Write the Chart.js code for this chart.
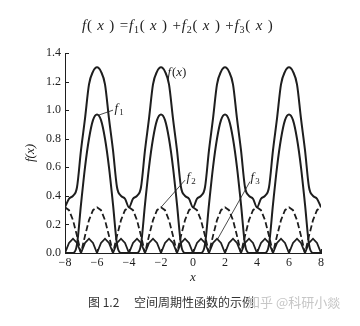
<!DOCTYPE html>
<html>
<head>
<meta charset="utf-8">
<script src="https://cdn.jsdelivr.net/npm/chart.js@4.4.1/dist/chart.umd.min.js"></script>
<style>
  html, body { margin: 0; padding: 0; background: #fff; }
  #wrap { position: relative; width: 360px; height: 326px; overflow: hidden; }
  #chart { position: absolute; left: 0; top: 0; }
  .title { position: absolute; top: 17px; left: 82px; font: 15px 'Liberation Serif', serif; color: #222; white-space: nowrap; letter-spacing: 0.8px; }
  .title sub { font-size: 10px; vertical-align: -3px; line-height: 0; }
  .caption { position: absolute; top: 293px; left: 88px; font: 12px 'Noto Sans CJK SC', sans-serif; color: #333; white-space: nowrap; }
  .mark { position: absolute; top: 292px; left: 247px; font: 13px 'Noto Sans CJK SC', sans-serif; color: #c6c6c6; white-space: nowrap; }
</style>
</head>
<body>
<div id="wrap">
  <canvas id="chart" width="360" height="326"></canvas>
  <div class="title"><i>f</i>( <i>x</i> ) =<i>f</i><sub>1</sub>( <i>x</i> ) +<i>f</i><sub>2</sub>( <i>x</i> ) +<i>f</i><sub>3</sub>( <i>x</i> )</div>
  <div class="caption">图 1.2　 空间周期性函数的示例</div>
  <div class="mark">知乎 @科研小燚</div>
</div>
<script>
// x 取样点（每 0.25 一点）
const xValues = [
  -8, -7.75, -7.5, -7.25, -7, -6.75, -6.5, -6.25, -6, -5.75, -5.5, -5.25, -5, -4.75, -4.5, -4.25,
  -4, -3.75, -3.5, -3.25, -3, -2.75, -2.5, -2.25, -2, -1.75, -1.5, -1.25, -1, -0.75, -0.5, -0.25,
  0, 0.25, 0.5, 0.75, 1, 1.25, 1.5, 1.75, 2, 2.25, 2.5, 2.75, 3, 3.25, 3.5, 3.75,
  4, 4.25, 4.5, 4.75, 5, 5.25, 5.5, 5.75, 6, 6.25, 6.5, 6.75, 7, 7.25, 7.5, 7.75, 8
];

// f(x) 合成曲线
const fValues = [
  0.32, 0.38, 0.40, 0.46, 0.72, 0.94, 1.18, 1.27, 1.30, 1.27, 1.18, 0.94, 0.72, 0.46, 0.40, 0.38,
  0.32, 0.38, 0.40, 0.46, 0.72, 0.94, 1.18, 1.27, 1.30, 1.27, 1.18, 0.94, 0.72, 0.46, 0.40, 0.38,
  0.32, 0.38, 0.40, 0.46, 0.72, 0.94, 1.18, 1.27, 1.30, 1.27, 1.18, 0.94, 0.72, 0.46, 0.40, 0.38,
  0.32, 0.38, 0.40, 0.46, 0.72, 0.94, 1.18, 1.27, 1.30, 1.27, 1.18, 0.94, 0.72, 0.46, 0.40, 0.38,
  0.32
];

// f1
const f1Values = [
  0, 0, 0, 0.06, 0.34, 0.60, 0.80, 0.93, 0.97, 0.93, 0.80, 0.60, 0.34, 0.06, 0, 0,
  0, 0, 0, 0.06, 0.34, 0.60, 0.80, 0.93, 0.97, 0.93, 0.80, 0.60, 0.34, 0.06, 0, 0,
  0, 0, 0, 0.06, 0.34, 0.60, 0.80, 0.93, 0.97, 0.93, 0.80, 0.60, 0.34, 0.06, 0, 0,
  0, 0, 0, 0.06, 0.34, 0.60, 0.80, 0.93, 0.97, 0.93, 0.80, 0.60, 0.34, 0.06, 0, 0,
  0
];

// f2（虚线）
const f2Values = [
  0.32, 0.30, 0.23, 0.12, 0, 0.12, 0.23, 0.30, 0.32, 0.30, 0.23, 0.12, 0, 0.12, 0.23, 0.30,
  0.32, 0.30, 0.23, 0.12, 0, 0.12, 0.23, 0.30, 0.32, 0.30, 0.23, 0.12, 0, 0.12, 0.23, 0.30,
  0.32, 0.30, 0.23, 0.12, 0, 0.12, 0.23, 0.30, 0.32, 0.30, 0.23, 0.12, 0, 0.12, 0.23, 0.30,
  0.32, 0.30, 0.23, 0.12, 0, 0.12, 0.23, 0.30, 0.32, 0.30, 0.23, 0.12, 0, 0.12, 0.23, 0.30,
  0.32
];

// f3（小峰）
const f3Values = [
  0, 0.07, 0.10, 0.07, 0, 0.07, 0.10, 0.07, 0, 0.07, 0.10, 0.07, 0, 0.07, 0.10, 0.07,
  0, 0.07, 0.10, 0.07, 0, 0.07, 0.10, 0.07, 0, 0.07, 0.10, 0.07, 0, 0.07, 0.10, 0.07,
  0, 0.07, 0.10, 0.07, 0, 0.07, 0.10, 0.07, 0, 0.07, 0.10, 0.07, 0, 0.07, 0.10, 0.07,
  0, 0.07, 0.10, 0.07, 0, 0.07, 0.10, 0.07, 0, 0.07, 0.10, 0.07, 0, 0.07, 0.10, 0.07,
  0
];

const xTickValues = [-8, -6, -4, -2, 0, 2, 4, 6, 8];
const yTickValues = [0, 0.2, 0.4, 0.6, 0.8, 1.0, 1.2, 1.4];

// 曲线标注：文字位置 + 引线（数据坐标）
const noteTexts = ['f(x)', 'f1', 'f2', 'f3'];
const noteAt = [[-1.6, 1.26], [-4.9, 1.01], [-0.4, 0.53], [3.6, 0.53]];
const noteLeaders = [null, [-5.9, 0.965, -5.0, 1.0], [-0.5, 0.51, -2.0, 0.32], [3.56, 0.5, 1.5, 0.09]];

const ink = '#1e1e1e';
const serif = "'Liberation Serif', 'DejaVu Serif', serif";

const toPoints = (vals) => xValues.map((x, i) => ({ x: x, y: vals[i] }));

const notesPlugin = {
    id: 'notes',
    afterDatasetsDraw(chart) {
        const { ctx, chartArea, scales } = chart;
        const sx = scales.x, sy = scales.y;
        ctx.save();

        // 刻度朝内
        ctx.strokeStyle = ink;
        ctx.lineWidth = 1;
        yTickValues.forEach(v => {
            const py = Math.round(sy.getPixelForValue(v)) + 0.5;
            ctx.beginPath();
            ctx.moveTo(chartArea.left, py);
            ctx.lineTo(chartArea.left + 4, py);
            ctx.stroke();
        });
        xTickValues.forEach(v => {
            const px = Math.round(sx.getPixelForValue(v)) + 0.5;
            ctx.beginPath();
            ctx.moveTo(px, chartArea.bottom);
            ctx.lineTo(px, chartArea.bottom - 4);
            ctx.stroke();
        });

        // 引线
        ctx.lineWidth = 0.8;
        noteLeaders.forEach(l => {
            if (!l) return;
            ctx.beginPath();
            ctx.moveTo(sx.getPixelForValue(l[0]), sy.getPixelForValue(l[1]));
            ctx.lineTo(sx.getPixelForValue(l[2]), sy.getPixelForValue(l[3]));
            ctx.stroke();
        });

        // 文字
        ctx.fillStyle = ink;
        ctx.textBaseline = 'middle';
        ctx.textAlign = 'left';
        noteTexts.forEach((t, i) => {
            let px = sx.getPixelForValue(noteAt[i][0]);
            const py = sy.getPixelForValue(noteAt[i][1]);
            ctx.font = 'italic 13px ' + serif;
            ctx.fillText('f', px, py);
            px += ctx.measureText('f').width + 1;
            if (t === 'f(x)') {
                ctx.font = '13px ' + serif;
                ctx.fillText('(', px, py); px += ctx.measureText('(').width;
                ctx.font = 'italic 13px ' + serif;
                ctx.fillText('x', px, py); px += ctx.measureText('x').width;
                ctx.font = '13px ' + serif;
                ctx.fillText(')', px, py);
            } else {
                ctx.font = '9px ' + serif;
                ctx.fillText(t.slice(1), px, py + 4);
            }
        });
        ctx.restore();
    }
};

new Chart(document.getElementById('chart'), {
    type: 'line',
    data: {
        datasets: [
            { label: 'f1', data: toPoints(f1Values), borderColor: ink, borderWidth: 2, pointRadius: 0, cubicInterpolationMode: 'monotone' },
            { label: 'f2', data: toPoints(f2Values), borderColor: ink, borderWidth: 1.8, borderDash: [6, 3], pointRadius: 0, tension: 0 },
            { label: 'f3', data: toPoints(f3Values), borderColor: ink, borderWidth: 1.8, pointRadius: 0, tension: 0 },
            { label: 'f(x)', data: toPoints(fValues), borderColor: ink, borderWidth: 2, pointRadius: 0, cubicInterpolationMode: 'monotone' }
        ]
    },
    options: {
        responsive: false,
        animation: false,
        layout: { padding: { top: 53, left: 0, right: 39, bottom: 0 } },
        plugins: { legend: { display: false }, tooltip: { enabled: false } },
        scales: {
            x: {
                type: 'linear',
                min: -8,
                max: 8,
                afterFit: s => { s.height = 73; },
                afterBuildTicks: s => { s.ticks = xTickValues.map(v => ({ value: v })); },
                ticks: {
                    padding: 3,
                    maxRotation: 0,
                    color: ink,
                    font: { family: serif, size: 12 },
                    callback: v => String(v).replace('-', '\u2212')
                },
                grid: { display: false, drawTicks: false },
                border: { display: true, color: ink, width: 1 },
                title: { display: true, text: 'x', color: ink, font: { family: serif, size: 13, style: 'italic' }, padding: { top: 0, bottom: 41 } }
            },
            y: {
                type: 'linear',
                min: 0,
                max: 1.4,
                afterFit: s => { s.width = 65; },
                afterBuildTicks: s => { s.ticks = yTickValues.map(v => ({ value: v })); },
                ticks: {
                    padding: 4,
                    color: ink,
                    font: { family: serif, size: 12 },
                    callback: v => Number(v).toFixed(1)
                },
                grid: { display: false, drawTicks: false },
                border: { display: true, color: ink, width: 1 },
                title: { display: true, text: 'f(x)', color: ink, font: { family: serif, size: 13, style: 'italic' }, padding: { top: 23, bottom: 0 } }
            }
        }
    },
    plugins: [notesPlugin]
});
</script>
</body>
</html>
